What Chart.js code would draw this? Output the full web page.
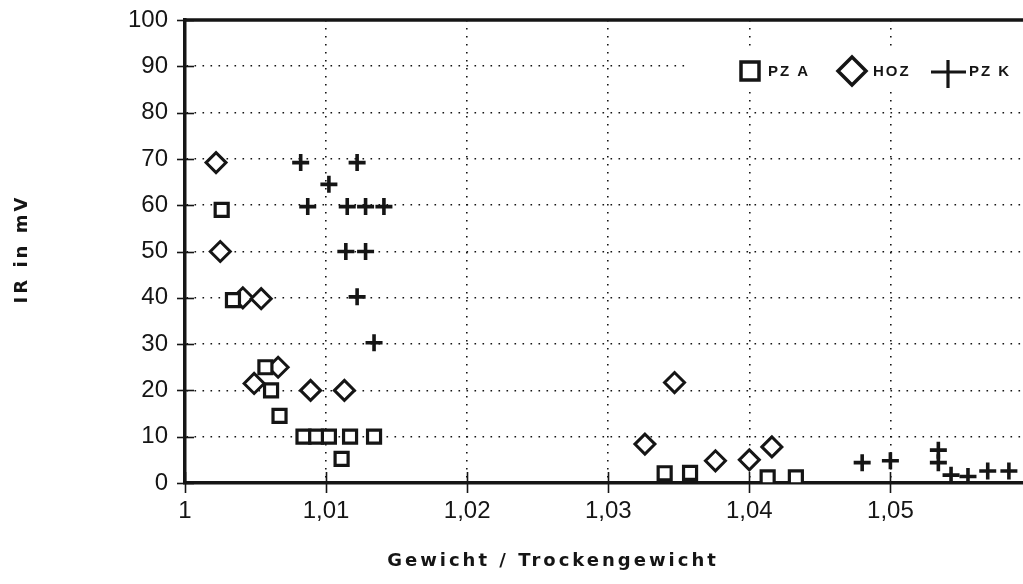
<!DOCTYPE html>
<html>
<head>
<meta charset="utf-8">
<script src="https://cdn.jsdelivr.net/npm/chart.js@4/dist/chart.umd.min.js"></script>
<style>
  html, body { margin: 0; padding: 0; background: #ffffff; overflow: hidden; }
  #wrap { width: 1023px; height: 584px; position: relative; }
</style>
</head>
<body>
<div id="wrap"><canvas id="c" width="1023" height="584"></canvas></div>
<script>
// ---- data ----
const xTitle = 'Gewicht / Trockengewicht';
const yTitle = 'IR in mV';
const seriesNames = ['PZ A', 'HOZ', 'PZ K'];

const pzA_x = [1.0034, 1.0057, 1.0061, 1.0067, 1.0026, 1.0084, 1.0093, 1.0102, 1.0111, 1.0117, 1.0134, 1.0340, 1.0358, 1.0413, 1.0433];
const pzA_y = [39.5,   25,     20,     14.5,   59,     10,     10,     10,     5.2,    10,     10,     2.1,    2.2,    1.2,    1.2];

const hoz_x = [1.0022, 1.0025, 1.0041, 1.0054, 1.0049, 1.0066, 1.0089, 1.0113, 1.0326, 1.0347, 1.0376, 1.0400, 1.0416];
const hoz_y = [69.2,   50,     40,     39.8,   21.5,   25,     20,     20,     8.4,    21.7,   4.8,    5,      7.8];

const pzK_x = [1.0082, 1.0122, 1.0102, 1.0087, 1.0115, 1.0128, 1.0141, 1.0114, 1.0128, 1.0122, 1.0134, 1.0480, 1.0500, 1.0534, 1.0534, 1.0543, 1.0555, 1.0569, 1.0584];
const pzK_y = [69.2,   69.2,   64.5,   59.7,   59.7,   59.7,   59.7,   50,     50,     40.2,   30.3,   4.4,    4.8,    7.1,    4.4,    1.7,    1.4,    2.6,    2.6];

const xTickValues = [1, 1.01, 1.02, 1.03, 1.04, 1.05];
const yTickValues = [0, 10, 20, 30, 40, 50, 60, 70, 80, 90, 100];

// ---- build ----
const toPts = (xs, ys) => xs.map((x, i) => ({ x: x, y: ys[i] }));
const INK = '#151515';

const fmtX = v => {
  const r = Math.round(v * 100) / 100;
  return String(r).replace('.', ',');
};

const decorPlugin = {
  id: 'decor',
  afterDraw(chart) {
    const ctx = chart.ctx;
    const a = chart.chartArea;
    const xs = chart.scales.x, ys = chart.scales.y;
    ctx.save();
    // top frame line
    ctx.strokeStyle = INK;
    ctx.lineWidth = 3.5;
    ctx.beginPath();
    ctx.moveTo(a.left - 1.5, a.top);
    ctx.lineTo(a.right + 10, a.top);
    ctx.stroke();
    // tick marks crossing the axes
    ctx.lineWidth = 1.6;
    yTickValues.forEach(v => {
      const y = Math.round(ys.getPixelForValue(v)) + 0.5;
      ctx.beginPath();
      ctx.moveTo(a.left - 8, y);
      ctx.lineTo(a.left + 9, y);
      ctx.stroke();
    });
    xTickValues.forEach(v => {
      const x = Math.round(xs.getPixelForValue(v)) + 0.5;
      ctx.beginPath();
      ctx.moveTo(x, a.bottom - 11);
      ctx.lineTo(x, a.bottom + 10);
      ctx.stroke();
    });
    // legend box (white background covering grid)
    ctx.fillStyle = '#ffffff';
    ctx.fillRect(687, 50, 400, 39);
    ctx.strokeStyle = INK;
    ctx.fillStyle = '#ffffff';
    ctx.lineWidth = 3.5;
    // square
    ctx.beginPath();
    ctx.rect(741, 62, 18, 18);
    ctx.fill(); ctx.stroke();
    // diamond
    ctx.beginPath();
    ctx.moveTo(852, 57); ctx.lineTo(866, 71); ctx.lineTo(852, 85); ctx.lineTo(838, 71); ctx.closePath();
    ctx.fill(); ctx.stroke();
    // cross
    ctx.lineWidth = 3.2;
    ctx.beginPath();
    ctx.moveTo(931, 72); ctx.lineTo(966, 72);
    ctx.moveTo(948, 60); ctx.lineTo(948, 88);
    ctx.stroke();
    // legend text
    ctx.fillStyle = INK;
    ctx.font = 'bold 15px "Liberation Sans", Arial, sans-serif';
    ctx.textBaseline = 'middle';
    ctx.textAlign = 'left';
    try { ctx.letterSpacing = '2px'; } catch (e) {}
    ctx.fillText(seriesNames[0], 768, 72);
    ctx.fillText(seriesNames[1], 873, 72);
    ctx.fillText(seriesNames[2], 969, 72);
    // axis titles
    ctx.font = 'bold 18px "DejaVu Sans", sans-serif';
    try { ctx.letterSpacing = '3px'; } catch (e) {}
    ctx.textAlign = 'center';
    ctx.textBaseline = 'alphabetic';
    ctx.fillText(xTitle, 553, 566);
    ctx.translate(27, 249);
    ctx.rotate(-Math.PI / 2);
    ctx.fillText(yTitle, 0, 0);
    ctx.restore();
  }
};

const gridDash = [1.6, 6.4];

new Chart(document.getElementById('c'), {
  type: 'scatter',
  data: {
    datasets: [
      { label: seriesNames[0], data: toPts(pzA_x, pzA_y), pointStyle: 'rect', pointRadius: 9.2,
        borderColor: INK, backgroundColor: '#ffffff', borderWidth: 3.2 },
      { label: seriesNames[1], data: toPts(hoz_x, hoz_y), pointStyle: 'rectRot', pointRadius: 10,
        borderColor: INK, backgroundColor: '#ffffff', borderWidth: 3 },
      { label: seriesNames[2], data: toPts(pzK_x, pzK_y), pointStyle: 'cross', pointRadius: 8.5,
        borderColor: INK, backgroundColor: INK, borderWidth: 3.6 }
    ]
  },
  options: {
    responsive: false,
    animation: false,
    events: [],
    layout: { autoPadding: false, padding: { top: 20, right: 0, left: 0, bottom: 0 } },
    plugins: { legend: { display: false }, tooltip: { enabled: false } },
    scales: {
      x: {
        type: 'linear',
        min: 1,
        max: 1.0594,
        afterBuildTicks: s => { s.ticks = xTickValues.map(v => ({ value: v })); },
        afterFit: s => { s.height = 101; s.paddingLeft = 0; s.paddingRight = 0; },
        ticks: {
          callback: v => fmtX(v),
          color: INK,
          padding: 14,
          maxRotation: 0,
          font: { family: '"Liberation Sans", Arial, sans-serif', size: 24 }
        },
        grid: { color: INK, lineWidth: 1.6, drawTicks: false },
        border: { display: true, color: INK, width: 3.5, dash: gridDash }
      },
      y: {
        type: 'linear',
        min: 0,
        max: 100,
        afterBuildTicks: s => { s.ticks = yTickValues.map(v => ({ value: v })); },
        afterFit: s => { s.width = 185; s.paddingTop = 0; s.paddingBottom = 0; },
        ticks: {
          color: INK,
          padding: 17,
          font: { family: '"Liberation Sans", Arial, sans-serif', size: 24 }
        },
        grid: { color: INK, lineWidth: 1.6, drawTicks: false },
        border: { display: true, color: INK, width: 3.5, dash: gridDash }
      }
    }
  },
  plugins: [decorPlugin]
});
</script>
</body>
</html>
